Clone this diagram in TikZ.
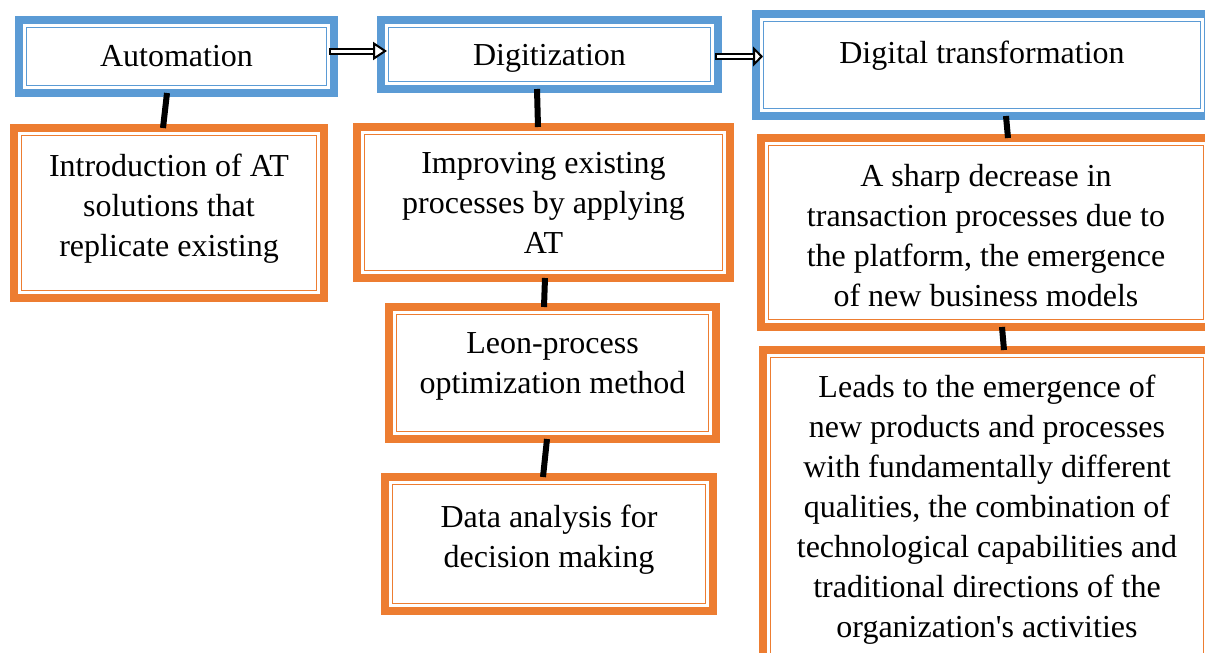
\documentclass[tikz,border=0pt]{standalone}
\usepackage{fontspec}
\setmainfont{Liberation Serif}[Ligatures=TeXOff]
\usetikzlibrary{arrows.meta}

\definecolor{frameblue}{HTML}{5B9BD5}
\definecolor{frameorange}{HTML}{ED7D31}

\tikzset{
  frame/.style={fill=white, line width=4pt, outer sep=0pt, inner sep=0pt,
    align=center, font=\fontsize{16pt}{20pt}\selectfont},
  stage/.style={frame, draw=frameblue},
  result/.style={frame, draw=frameorange},
  link/.style={line width=3pt, black},
  hollow/.style={line width=1pt, double=white, double distance=1.5pt, line cap=rect},
}

\begin{document}
\begin{tikzpicture}[x=0.5pt, y=-0.5pt]
\useasboundingbox (0,0) rectangle (1205,653);
\clip (0,0) rectangle (1205,653);

% top row
\node[stage, minimum width=157.5pt, minimum height=36.5pt] (auto) at (176.5,56.5) {Automation};
\node[stage, minimum width=168.5pt, minimum height=34.5pt, text depth=0pt] (digit) at (549.5,54.5) {Digitization};
\node[stage, minimum width=226pt, minimum height=51pt, text depth=13pt] (dt) at (982,65) {Digital transformation};

% lower boxes
\node[result, minimum width=155pt, minimum height=85pt, text depth=8pt] (intro) at (169,213)
  {Introduction of AT\\ solutions that\\ replicate existing};
\node[result, minimum width=186.5pt, minimum height=75.5pt] (impr) at (543.5,202.5)
  {Improving existing\\ processes by applying\\ AT};
\node[result, minimum width=163.5pt, minimum height=66pt, text depth=10pt] (leon) at (552.5,373)
  {Leon-process\\ optimization method};
\node[result, minimum width=164pt, minimum height=67pt, text depth=8pt] (data) at (549,544)
  {Data analysis for\\ decision making};
\node[result, minimum width=225pt, minimum height=94.5pt, text height=74.5pt] (sharp) at (986,232.5)
  {A sharp decrease in\\ transaction processes due to\\ the platform, the emergence\\ of new business models};
\node[result, minimum width=224pt, minimum height=160pt] (leads) at (987,510)
  {Leads to the emergence of\\ new products and processes\\ with fundamentally different\\ qualities, the combination of\\ technological capabilities and\\ traditional directions of the\\ organization's activities};

% inner lines
\foreach \n/\c in {auto/frameblue, digit/frameblue, dt/frameblue, intro/frameorange,
  impr/frameorange, leon/frameorange, data/frameorange, sharp/frameorange, leads/frameorange}
  \draw[\c, line width=0.8pt] ([shift={(3.75pt,-3.75pt)}]\n.north west)
    rectangle ([shift={(-3.75pt,3.75pt)}]\n.south east);

% connectors
\draw[link] ([xshift=-4.75pt]auto.south) -- ([xshift=-3pt]intro.north);
\draw[link] ([xshift=-6.25pt]digit.south) -- ([xshift=-2.75pt]impr.north);
\draw[link] ([xshift=0.75pt]impr.south) -- ([xshift=-4.25pt]leon.north);
\draw[link] ([xshift=-2.75pt]leon.south) -- ([xshift=-3pt]data.north);
\draw[link] ([xshift=12pt]dt.south) -- ([xshift=11pt]sharp.north);
\draw[link] ([xshift=8pt]sharp.south) -- ([xshift=8.5pt]leads.north);

\draw[hollow, -{Triangle[length=7pt, width=9pt, fill=white]}]
  ([xshift=-1pt,yshift=2.75pt]auto.east) coordinate (a1) -- ([xshift=3pt]a1 -| digit.west);
\draw[hollow, -{Triangle[length=5pt, width=10pt, fill=white]}]
  ([yshift=-1pt]digit.east) coordinate (a2) -- ([xshift=3.5pt]a2 -| dt.west);

\end{tikzpicture}
\end{document}
